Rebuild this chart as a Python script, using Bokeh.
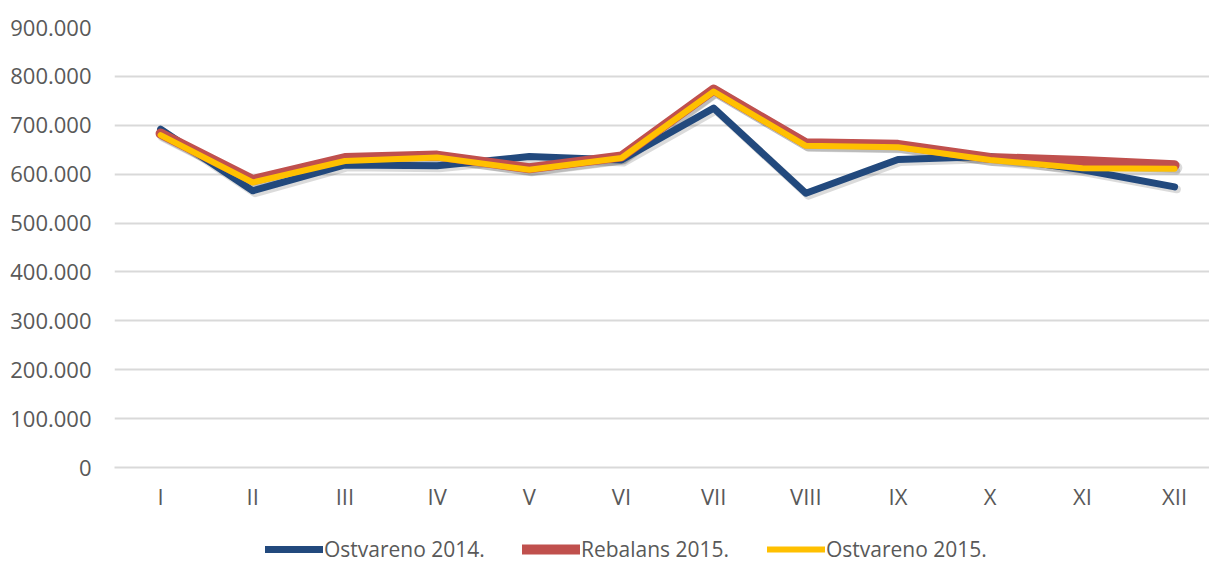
from bokeh.plotting import figure
from bokeh.layouts import column
from bokeh.models import ColumnDataSource, FixedTicker, Legend, LegendItem, Range1d
from bokeh.transform import dodge
from bokeh.embed import file_html
from bokeh.resources import INLINE

months = ["I", "II", "III", "IV", "V", "VI", "VII", "VIII", "IX", "X", "XI", "XII"]
ostvareno_2014 = [692000, 566000, 619000, 617000, 636000, 629000, 735000, 561000, 630000, 636000, 609000, 574000]
rebalans_2015 = [683000, 588000, 633000, 638000, 612000, 636000, 773000, 663000, 660000, 633000, 627000, 618000]
ostvareno_2015 = [680000, 583000, 627000, 634000, 609000, 633000, 769000, 658000, 655000, 629000, 612000, 611000]
y_ticks = [0, 100000, 200000, 300000, 400000, 500000, 600000, 700000, 800000, 900000]
y_tick_labels = ["0", "100.000", "200.000", "300.000", "400.000", "500.000", "600.000", "700.000", "800.000", "900.000"]
series_names = ["Ostvareno 2014.", "Rebalans 2015.", "Ostvareno 2015."]

FONT = "Open Sans"
TXT = "#595959"
COLORS = ["#22497D", "#C0504D", "#FFC000"]
WIDTHS = [7, 10, 6]
COLS = ["a", "b", "c"]

xs = list(range(len(months)))
src = ColumnDataSource(dict(x=xs, a=ostvareno_2014, b=rebalans_2015, c=ostvareno_2015))

p = figure(width=1209, height=533, output_backend="svg", toolbar_location=None,
           x_range=Range1d(-0.5, 11.379), y_range=Range1d(0, 900000),
           min_border_left=114, min_border_right=0, min_border_top=27, min_border_bottom=66)
p.outline_line_color = None
p.background_fill_color = "white"
p.border_fill_color = "white"

# soft drop shadows (same data, shifted a couple of pixels)
for col, w in zip(COLS, WIDTHS):
    p.line(x=dodge("x", 0.025), y=dodge(col, -5000), source=src, line_color="black",
           line_alpha=0.14, line_width=w + 1, line_cap="round", line_join="round")

for col, c, w in zip(COLS, COLORS, WIDTHS):
    p.line("x", col, source=src, line_color=c, line_width=w, line_cap="round", line_join="round")

# axes
p.xaxis.ticker = FixedTicker(ticks=xs)
p.xaxis.major_label_overrides = {i: m for i, m in enumerate(months)}
p.xaxis.axis_line_color = "#D9D9D9"
p.xaxis.axis_line_width = 2
p.xaxis.major_tick_line_color = None
p.xaxis.minor_tick_line_color = None
p.xaxis.major_label_standoff = 7
p.xaxis.major_label_text_font = FONT
p.xaxis.major_label_text_font_size = "22px"
p.xaxis.major_label_text_color = TXT

p.yaxis.ticker = FixedTicker(ticks=y_ticks)
p.yaxis.major_label_overrides = {t: l for t, l in zip(y_ticks, y_tick_labels)}
p.yaxis.axis_line_color = None
p.yaxis.major_tick_line_color = None
p.yaxis.minor_tick_line_color = None
p.yaxis.major_label_standoff = 17
p.yaxis.major_label_text_font = FONT
p.yaxis.major_label_text_font_size = "22px"
p.yaxis.major_label_text_color = TXT

p.xgrid.grid_line_color = None
p.ygrid.grid_line_color = "#D9D9D9"
p.ygrid.grid_line_width = 2

# legend strip below the chart (its frame is aligned with the chart frame, left = 114px)
lg = figure(width=1209, height=30, output_backend="svg", toolbar_location=None,
            x_axis_type=None, y_axis_type=None, min_border=0,
            x_range=Range1d(-0.5, 11.379), y_range=Range1d(0, 900000))
lg.outline_line_color = None
lg.xgrid.grid_line_color = None
lg.ygrid.grid_line_color = None
legend_x = [151, 408, 653]
for name, col, c, w, lx in zip(series_names, COLS, COLORS, WIDTHS, legend_x):
    r = lg.line("x", col, source=src, line_color=c, line_width=w, line_cap="round", visible=False)
    leg = Legend(items=[LegendItem(label=name, renderers=[r])], location=(lx, 0),
                 glyph_width=58, glyph_height=28, label_height=28, label_standoff=1,
                 label_text_font=FONT, label_text_font_size="21px", label_text_color=TXT,
                 border_line_color=None, background_fill_alpha=0, padding=0, margin=0)
    lg.add_layout(leg, "center")

layout = column(p, lg, spacing=0)
open("out.html", "w").write(file_html(layout, INLINE))
